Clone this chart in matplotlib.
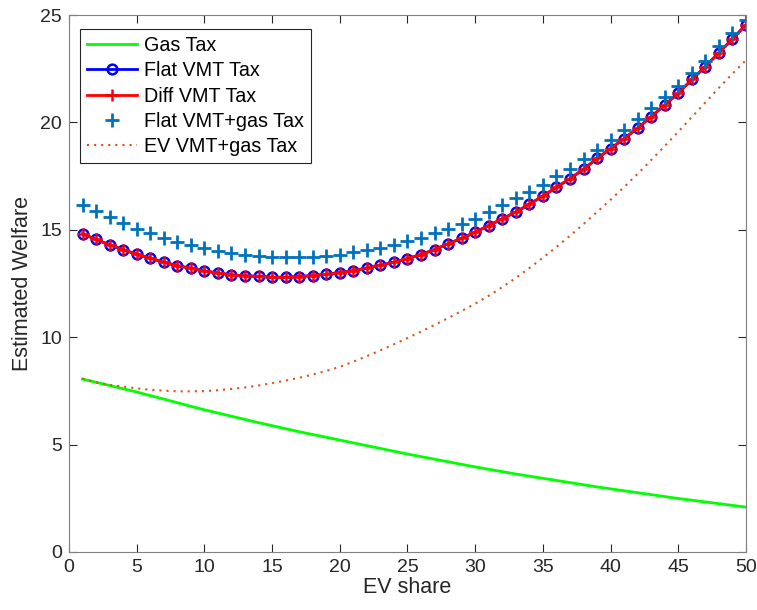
import numpy as np
import matplotlib
matplotlib.use("Agg")
import matplotlib.pyplot as plt

plt.rcParams['font.family'] = ['Liberation Sans', 'DejaVu Sans']

ev_share = list(range(1, 51))

gas_tax = [8.05, 7.90, 7.75, 7.60, 7.45, 7.28, 7.12, 6.95, 6.78, 6.62,
           6.47, 6.32, 6.17, 6.02, 5.88, 5.74, 5.60, 5.47, 5.34, 5.21,
           5.08, 4.95, 4.82, 4.69, 4.56, 4.44, 4.32, 4.20, 4.08, 3.96,
           3.85, 3.74, 3.63, 3.53, 3.43, 3.33, 3.23, 3.13, 3.03, 2.94,
           2.85, 2.76, 2.67, 2.58, 2.49, 2.41, 2.33, 2.25, 2.17, 2.09]

flat_vmt = [14.81, 14.55, 14.30, 14.08, 13.86, 13.68, 13.49, 13.33, 13.21, 13.08,
            12.99, 12.90, 12.86, 12.83, 12.79, 12.79, 12.82, 12.87, 12.93, 13.01,
            13.10, 13.22, 13.35, 13.49, 13.66, 13.85, 14.08, 14.35, 14.60, 14.89,
            15.20, 15.51, 15.83, 16.19, 16.57, 16.98, 17.38, 17.82, 18.32, 18.78,
            19.25, 19.73, 20.27, 20.81, 21.36, 22.00, 22.60, 23.25, 23.88, 24.55]

diff_vmt = [14.81, 14.55, 14.30, 14.08, 13.86, 13.68, 13.49, 13.33, 13.21, 13.08,
            12.99, 12.90, 12.86, 12.83, 12.79, 12.79, 12.82, 12.87, 12.93, 13.01,
            13.10, 13.22, 13.35, 13.49, 13.66, 13.85, 14.08, 14.35, 14.60, 14.89,
            15.20, 15.51, 15.83, 16.19, 16.57, 16.98, 17.38, 17.82, 18.32, 18.78,
            19.25, 19.73, 20.27, 20.81, 21.36, 22.00, 22.60, 23.25, 23.88, 24.55]

flat_vmt_gas = [16.17, 15.86, 15.58, 15.33, 15.05, 14.85, 14.63, 14.45, 14.30, 14.16,
                14.03, 13.93, 13.85, 13.77, 13.72, 13.72, 13.72, 13.75, 13.80, 13.85,
                13.95, 14.04, 14.16, 14.28, 14.46, 14.62, 14.83, 15.05, 15.28, 15.51,
                15.83, 16.14, 16.48, 16.76, 17.10, 17.51, 17.85, 18.29, 18.71, 19.17,
                19.64, 20.15, 20.65, 21.20, 21.71, 22.29, 22.88, 23.54, 24.16, 24.78]

ev_vmt_gas = [8.07, 7.90, 7.78, 7.70, 7.62, 7.55, 7.51, 7.48, 7.48, 7.49,
              7.53, 7.59, 7.66, 7.75, 7.86, 7.98, 8.11, 8.26, 8.43, 8.62,
              8.86, 9.12, 9.39, 9.67, 9.96, 10.26, 10.57, 10.89, 11.22, 11.56,
              11.93, 12.33, 12.76, 13.22, 13.70, 14.20, 14.72, 15.27, 15.83, 16.40,
              16.99, 17.61, 18.25, 18.90, 19.57, 20.25, 20.93, 21.61, 22.27, 22.90]

xticks = [0, 5, 10, 15, 20, 25, 30, 35, 40, 45, 50]
yticks = [0, 5, 10, 15, 20, 25]

fig = plt.figure(figsize=(7.57, 6.10), dpi=100)
ax = fig.add_axes([0.0911, 0.0951, 0.8944, 0.8803])

ax.plot(ev_share, gas_tax, color='#00FF00', lw=2, label='Gas Tax')
ax.plot(ev_share, flat_vmt, color='#0000FF', lw=2, marker='o', ms=7,
        mfc='none', mew=1.8, label='Flat VMT Tax')
ax.plot(ev_share, diff_vmt, color='#FF0000', lw=2, marker='+', ms=8,
        mew=1.8, label='Diff VMT Tax')
ax.plot(ev_share, flat_vmt_gas, color='#0072BD', lw=0, marker='+', ms=10,
        mew=2, label='Flat VMT+gas Tax')
ax.plot(ev_share, ev_vmt_gas, color='#D95319', lw=1.5, ls=(0, (1, 2.4)),
        label='EV VMT+gas Tax')

ax.set_xlim(0, 50)
ax.set_ylim(0, 25)
ax.set_xticks(xticks)
ax.set_yticks(yticks)
ax.tick_params(direction='in', top=True, right=True, length=6, width=0.8,
               colors='#262626', labelsize=14, pad=5)
for s in ax.spines.values():
    s.set_color('#808080')
    s.set_linewidth(0.8)
ax.set_xlabel('EV share', fontsize=15.5, color='#262626', labelpad=1)
ax.set_ylabel('Estimated Welfare', fontsize=15.5, color='#262626', labelpad=5)

leg = ax.legend(loc='upper left', bbox_to_anchor=(0.008, 0.985), fontsize=14.2,
                frameon=True, fancybox=False, edgecolor='#262626',
                framealpha=1, handlelength=2.5, borderpad=0.35,
                labelspacing=0.32, handletextpad=0.4, borderaxespad=0.3)
leg.get_frame().set_linewidth(0.8)

fig.savefig('out.png', dpi=100)
